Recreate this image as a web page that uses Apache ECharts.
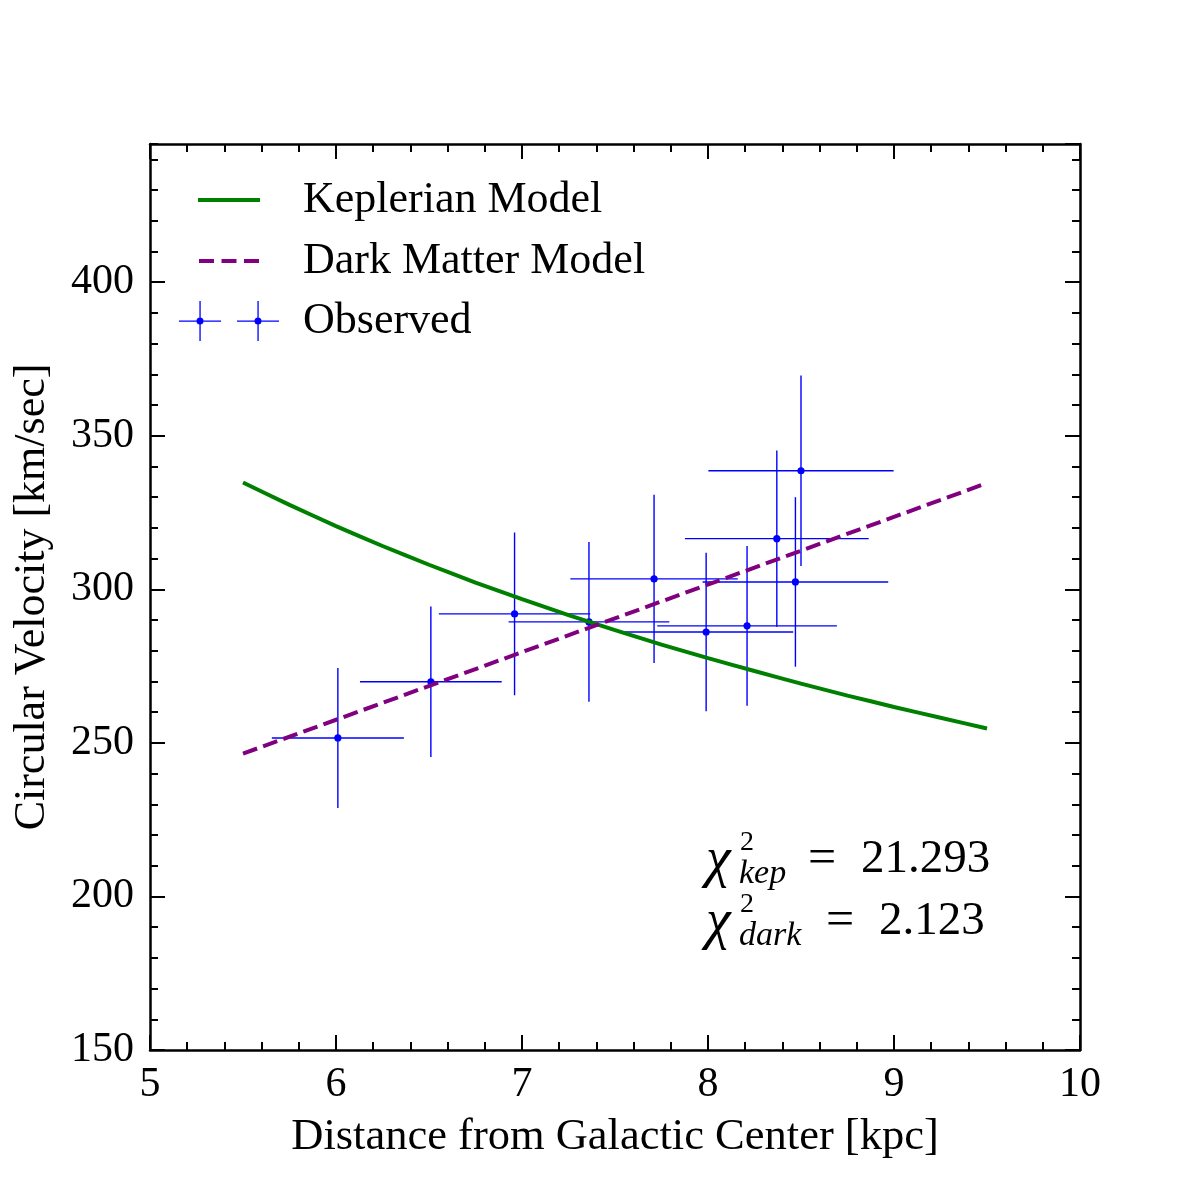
<!DOCTYPE html>
<html>
<head>
<meta charset="utf-8">
<script src="https://cdn.jsdelivr.net/npm/echarts@6/dist/echarts.min.js"></script>
<style>html,body{margin:0;padding:0;background:#fff}#chart{width:1200px;height:1200px}</style>
</head>
<body>
<div id="chart"></div>
<script>
// Observed data: [distance kpc, velocity km/s, x error, y error]
var obsX    = [6.01, 6.51, 6.96, 7.36, 7.71, 7.99, 8.21, 8.37, 8.47, 8.50];
var obsY    = [251.6, 269.9, 292.0, 289.4, 303.4, 286.1, 288.1, 316.5, 302.4, 338.6];
var obsXErr = [0.355, 0.381, 0.407, 0.432, 0.45, 0.468, 0.483, 0.494, 0.499, 0.498];
var obsYErr = [22.8, 24.5, 26.5, 26.0, 27.4, 25.8, 26.0, 28.7, 27.6, 31.0];

// Keplerian model curve
var kepX = [5.5, 5.75, 6.0, 6.25, 6.5, 6.75, 7.0, 7.25, 7.5, 7.75, 8.0, 8.25, 8.5, 8.75, 9.0, 9.25, 9.5];
var kepY = [334.8, 327.5, 320.6, 314.1, 308.0, 302.2, 296.8, 291.6, 286.7, 282.0, 277.6, 273.4, 269.3, 265.4, 261.7, 258.2, 254.7];

// Dark matter model line
var darkX = [5.5, 9.5];
var darkY = [246.5, 334.6];

var xTicks = [5, 6, 7, 8, 9, 10];
var yTicks = [150, 200, 250, 300, 350, 400];

var FONT = "'Liberation Serif', 'DejaVu Serif', 'Times New Roman', serif";

function zip2(a, b) { return a.map(function (v, i) { return [v, b[i]]; }); }
var obsData = obsX.map(function (v, i) { return [v, obsY[i], obsXErr[i], obsYErr[i]]; });

var chart = echarts.init(document.getElementById('chart'));

function xAx(pos, showLabel) {
  return {
    type: 'value', position: pos, min: xTicks[0], max: xTicks[xTicks.length - 1], interval: 1,
    name: showLabel ? 'Distance from Galactic Center [kpc]' : '',
    nameLocation: 'middle', nameGap: 65,
    nameTextStyle: { fontFamily: FONT, fontSize: 44.5, color: '#000' },
    axisLine: { show: true, lineStyle: { color: '#000', width: 2.5 } },
    axisTick: { show: true, inside: true, length: 15, lineStyle: { color: '#000', width: 2 } },
    minorTick: { show: true, splitNumber: 5, length: 8, lineStyle: { color: '#000', width: 2 } },
    axisLabel: { show: showLabel, fontFamily: FONT, fontSize: 42, color: '#000', margin: 14 },
    splitLine: { show: false }, minorSplitLine: { show: false }
  };
}
function yAx(pos, interval, major, showLabel, showLine) {
  return {
    type: 'value', position: pos, min: yTicks[0], max: 445, interval: interval,
    name: showLabel ? 'Circular Velocity [km/sec]' : '',
    nameLocation: 'middle', nameGap: 96, nameRotate: 90,
    nameTextStyle: { fontFamily: FONT, fontSize: 44, color: '#000' },
    axisLine: { show: showLine, lineStyle: { color: '#000', width: 2.5 } },
    axisTick: { show: true, inside: true, length: major ? 15 : 8, lineStyle: { color: '#000', width: 2 } },
    axisLabel: {
      show: showLabel, fontFamily: FONT, fontSize: 42, color: '#000', margin: 16,
      showMaxLabel: false,
      formatter: function (v) { return yTicks.indexOf(v) >= 0 ? String(v) : ''; }
    },
    splitLine: { show: false }
  };
}

var option = {
  backgroundColor: '#fff',
  animation: false,
  grid: { left: 150, right: 120, top: 144, bottom: 150, containLabel: false },
  xAxis: [xAx('bottom', true), xAx('top', false)],
  yAxis: [
    yAx('left', 50, true, true, true),
    yAx('left', 10, false, false, false),
    yAx('right', 50, true, false, true),
    yAx('right', 10, false, false, false)
  ],
  legend: [
    {
      data: [
        { name: 'Keplerian Model', icon: 'path://M0 0h62v4h-62z' },
        { name: 'Dark Matter Model', icon: 'path://M0 0h15v4h-15zM22.5 0h15v4h-15zM45 0h15v4h-15z' }
      ],
      orient: 'vertical', left: 193, top: 173, itemWidth: 62, itemHeight: 4, itemGap: 17,
      selectedMode: false,
      textStyle: { fontFamily: FONT, fontSize: 44, color: '#000', lineHeight: 44, padding: [0, 0, 0, 38] }
    },
    {
      data: [{
        name: 'Observed',
        icon: 'path://M0 19.4h42v1.3h-42zM20.4 0h1.3v40h-1.3zM58 19.4h42v1.3h-42zM78.4 0h1.3v40h-1.3zM17.5 20a3.5 3.5 0 0 1 7 0a3.5 3.5 0 0 1 -7 0zM75.5 20a3.5 3.5 0 0 1 7 0a3.5 3.5 0 0 1 -7 0z'
      }],
      orient: 'vertical', left: 174, top: 294, itemWidth: 100, itemHeight: 40,
      selectedMode: false,
      textStyle: { fontFamily: FONT, fontSize: 44, color: '#000', lineHeight: 44, padding: [0, 0, 0, 19] }
    }
  ],
  series: [
    {
      name: 'Observed', type: 'custom', xAxisIndex: 0, yAxisIndex: 0,
      itemStyle: { color: '#0000ff' },
      encode: { x: 0, y: 1 },
      data: obsData,
      renderItem: function (params, api) {
        var x = api.value(0), y = api.value(1), xe = api.value(2), ye = api.value(3);
        var c = api.coord([x, y]);
        var l = api.coord([x - xe, y]), r = api.coord([x + xe, y]);
        var t = api.coord([x, y + ye]), b = api.coord([x, y - ye]);
        var st = { stroke: '#0000ff', lineWidth: 1.4 };
        return {
          type: 'group', children: [
            { type: 'line', shape: { x1: l[0], y1: l[1], x2: r[0], y2: r[1] }, style: st },
            { type: 'line', shape: { x1: t[0], y1: t[1], x2: b[0], y2: b[1] }, style: st },
            { type: 'circle', shape: { cx: c[0], cy: c[1], r: 3.6 }, style: { fill: '#0000ff' } }
          ]
        };
      }
    },
    {
      name: 'Keplerian Model', type: 'line', xAxisIndex: 0, yAxisIndex: 0,
      data: zip2(kepX, kepY), showSymbol: false, symbol: 'none', smooth: 0.2,
      color: '#008000',
      itemStyle: { color: '#008000' },
      lineStyle: { color: '#008000', width: 4 }
    },
    {
      name: 'Dark Matter Model', type: 'line', xAxisIndex: 0, yAxisIndex: 0,
      data: zip2(darkX, darkY), showSymbol: false, symbol: 'none',
      color: '#800080',
      itemStyle: { color: '#800080' },
      lineStyle: { color: '#800080', width: 4, type: [15, 6.4] }
    }
  ],
  graphic: [
    { type: 'text', x: 706, y: 861, style: { text: 'χ', font: 'italic 56px ' + FONT, fill: '#000', verticalAlign: 'middle' } },
    { type: 'text', x: 740, y: 843, style: { text: '2', font: '28px ' + FONT, fill: '#000', verticalAlign: 'middle' } },
    { type: 'text', x: 739, y: 874, style: { text: 'kep', font: 'italic 34px ' + FONT, fill: '#000', verticalAlign: 'middle' } },
    { type: 'text', x: 808, y: 860, style: { text: '=', font: '50px ' + FONT, fill: '#000', verticalAlign: 'middle' } },
    { type: 'text', x: 861, y: 860, style: { text: '21.293', font: '47px ' + FONT, fill: '#000', verticalAlign: 'middle' } },
    { type: 'text', x: 706, y: 923, style: { text: 'χ', font: 'italic 56px ' + FONT, fill: '#000', verticalAlign: 'middle' } },
    { type: 'text', x: 740, y: 905, style: { text: '2', font: '28px ' + FONT, fill: '#000', verticalAlign: 'middle' } },
    { type: 'text', x: 739, y: 936, style: { text: 'dark', font: 'italic 34px ' + FONT, fill: '#000', verticalAlign: 'middle' } },
    { type: 'text', x: 826, y: 922, style: { text: '=', font: '50px ' + FONT, fill: '#000', verticalAlign: 'middle' } },
    { type: 'text', x: 879, y: 922, style: { text: '2.123', font: '47px ' + FONT, fill: '#000', verticalAlign: 'middle' } }
  ]
};
chart.setOption(option);
</script>
</body>
</html>
